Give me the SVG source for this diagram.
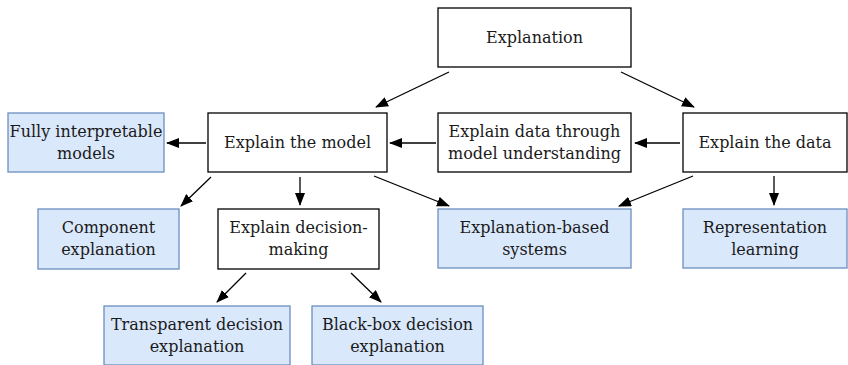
<svg xmlns="http://www.w3.org/2000/svg" width="848" height="365" viewBox="0 0 848 365">
  <style>
    .box { fill: #ffffff; stroke: #000000; stroke-width: 1.3; }
    .leaf { fill: #dae8fc; stroke: #6c8ebf; stroke-width: 1.3; }
    .lbl { font-size: 16px; fill: #1a1a1a; text-anchor: middle; }
    .edge { stroke: #000000; stroke-width: 1.3; fill: none; marker-end: url(#arrow); }
  </style>
  <defs>
    <marker id="arrow" markerUnits="userSpaceOnUse" markerWidth="14" markerHeight="12" refX="12" refY="5" orient="auto">
      <path d="M0,0 L13,5 L0,10 Z" fill="#000000"/>
    </marker>
  </defs>
  <rect width="848" height="365" fill="#ffffff"/>

  <g class="lbl" font-family="'DejaVu Serif', serif">
  <g id="explanation">
    <rect class="box" x="438" y="8" width="193" height="59"/>
    <text x="534.5" y="43">Explanation</text>
  </g>
  <g id="explain-model">
    <rect class="box" x="208" y="113" width="179" height="59"/>
    <text x="297.5" y="148">Explain the model</text>
  </g>
  <g id="explain-data-through-model">
    <rect class="box" x="438" y="113" width="193" height="59"/>
    <text x="534.5" y="137">Explain data through</text>
    <text x="534.5" y="159">model understanding</text>
  </g>
  <g id="explain-data">
    <rect class="box" x="683" y="113" width="164" height="59"/>
    <text x="765" y="148">Explain the data</text>
  </g>
  <g id="fully-interpretable">
    <rect class="leaf" x="8" y="113" width="156" height="59"/>
    <text x="86" y="137">Fully interpretable</text>
    <text x="86" y="159">models</text>
  </g>
  <g id="component-explanation">
    <rect class="leaf" x="38" y="209" width="141" height="60"/>
    <text x="108.5" y="233">Component</text>
    <text x="108.5" y="255">explanation</text>
  </g>
  <g id="explain-decision-making">
    <rect class="box" x="218" y="209" width="161" height="60"/>
    <text x="298.5" y="233">Explain decision-</text>
    <text x="298.5" y="255">making</text>
  </g>
  <g id="explanation-based-systems">
    <rect class="leaf" x="438" y="209" width="193" height="59"/>
    <text x="534.5" y="233">Explanation-based</text>
    <text x="534.5" y="255">systems</text>
  </g>
  <g id="representation-learning">
    <rect class="leaf" x="683" y="209" width="164" height="59"/>
    <text x="765" y="233">Representation</text>
    <text x="765" y="255">learning</text>
  </g>
  <g id="transparent-decision">
    <rect class="leaf" x="104" y="306" width="186" height="59"/>
    <text x="197" y="330">Transparent decision</text>
    <text x="197" y="352">explanation</text>
  </g>
  <g id="black-box-decision">
    <rect class="leaf" x="312" y="306" width="171" height="59"/>
    <text x="397.5" y="330">Black-box decision</text>
    <text x="397.5" y="352">explanation</text>
  </g>
  </g>

  <g id="connectors">
    <line class="edge" x1="449" y1="72" x2="376" y2="107"/>
    <line class="edge" x1="621" y1="72" x2="694" y2="107"/>
    <line class="edge" x1="436" y1="143" x2="390" y2="143"/>
    <line class="edge" x1="680" y1="143" x2="635" y2="143"/>
    <line class="edge" x1="206" y1="143" x2="167" y2="143"/>
    <line class="edge" x1="211" y1="177" x2="181" y2="206"/>
    <line class="edge" x1="300" y1="177" x2="300" y2="205"/>
    <line class="edge" x1="374" y1="176" x2="449" y2="206"/>
    <line class="edge" x1="693" y1="176" x2="619" y2="206"/>
    <line class="edge" x1="774" y1="176" x2="774" y2="205"/>
    <line class="edge" x1="246" y1="273" x2="217" y2="302"/>
    <line class="edge" x1="351" y1="273" x2="381" y2="302"/>
  </g>
</svg>
